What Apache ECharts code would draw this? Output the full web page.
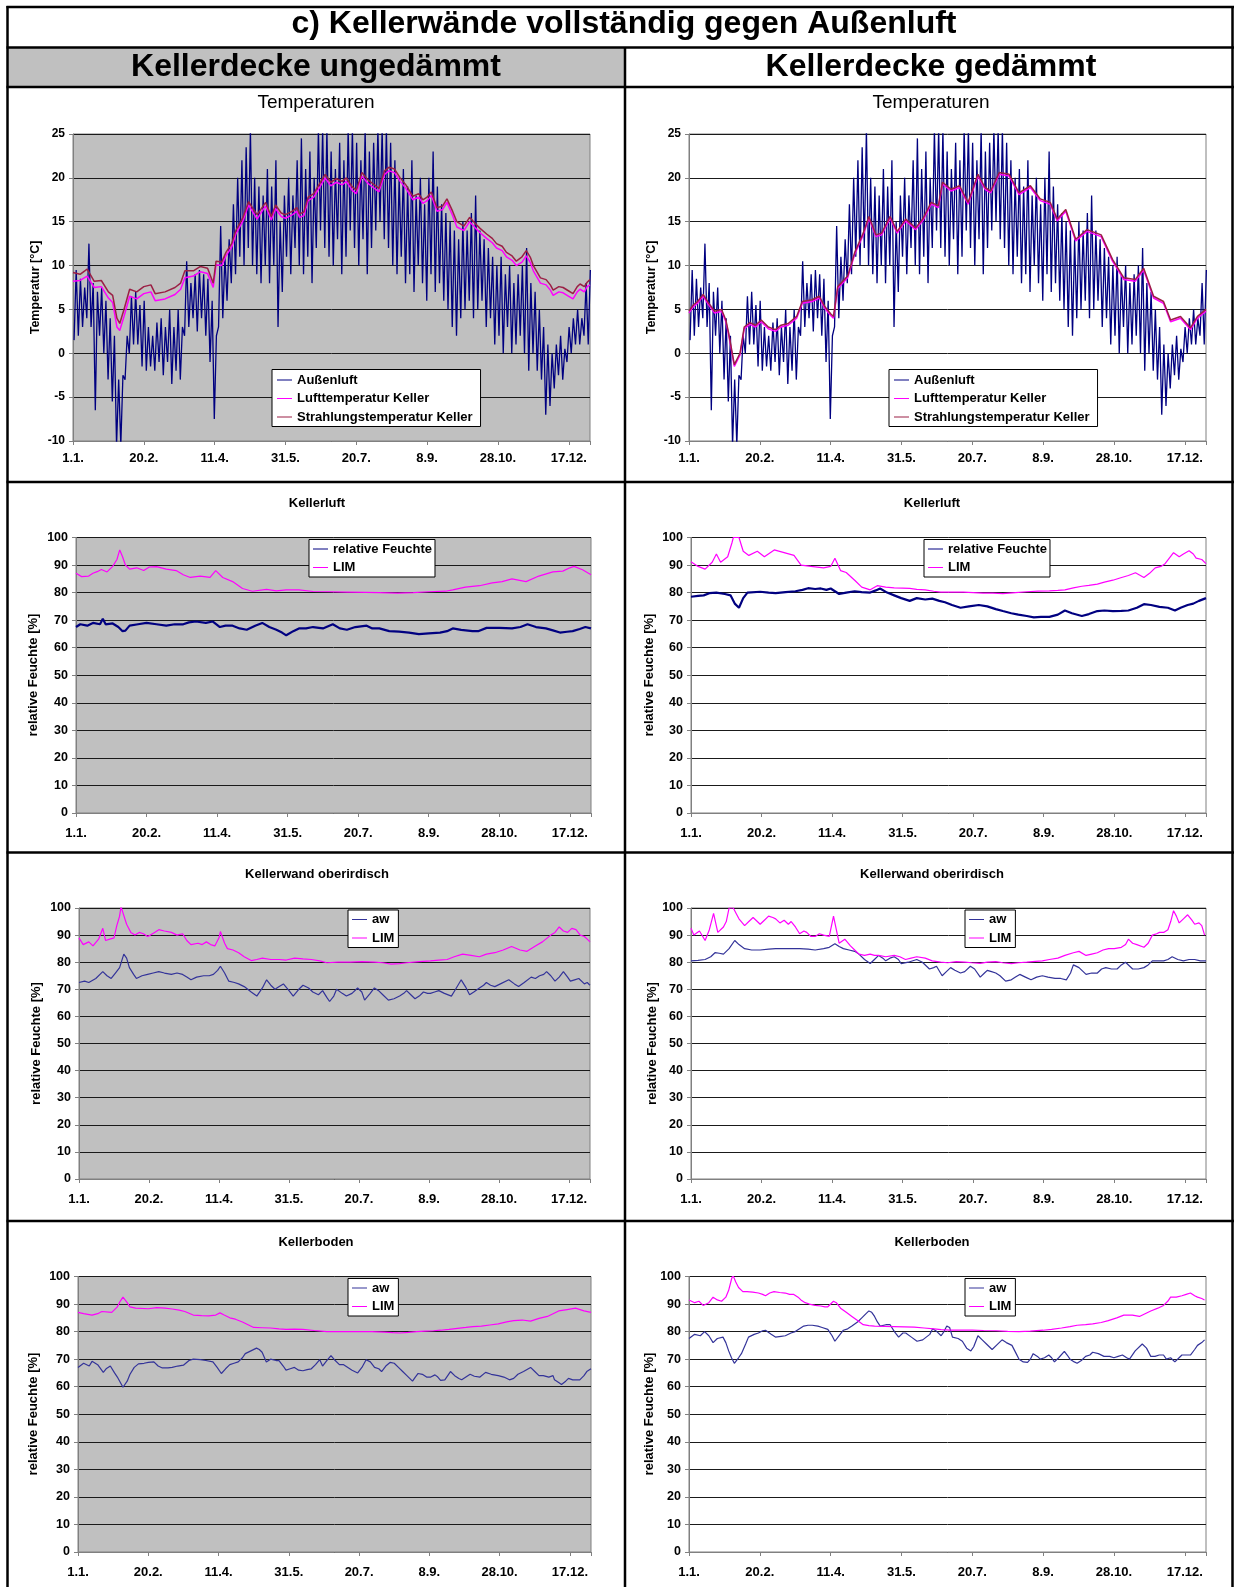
<!DOCTYPE html>
<html><head><meta charset="utf-8">
<script src="https://cdn.jsdelivr.net/npm/echarts/dist/echarts.min.js"></script>
<style>html,body{margin:0;padding:0;background:#fff}#c{width:1234px;height:1587px}</style>
</head><body><div id="c"></div>
<script>
// ---------- tick labels ----------
const dayTickLabels = ['1.1.','20.2.','11.4.','31.5.','20.7.','8.9.','28.10.','17.12.'];

// ---------- Außenluft (same weather in both variants): 3-day envelope, low / high ----------
const aussenBinDays = 3;
const aussenLo = [1.5,2,3,4,3,-6.5,2,0,-3,-5.5,-10.5,-10.5,-3,0,1,1,-1.5,-2,-1.5,-2,-1,-2.5,-1,-3.5,-2,-3,2,3,4,2.5,4,2,-1,-7.5,3,4,6,8,9,11,10,12,10,9,8,10,8,10,3,7,11,9,12,10,9,11,8,12,14,12,11,10,13,9,11,14,12,10,13,9,12,14,15,13,12,10,9,11,8,9,7,10,8,6,9,7,8,6,5,3,2,4,5,6,4,5,6,3,4,1,2,0,3,0,1,2,0,-2,0,-2,-3,-7,-6,-4,-2.5,-3,-1,0,1,1,2,1];
const aussenHi = [9.5,8.5,7.5,12.5,8,7,7.5,6,4,2,-3,-2.5,2,6.5,7,5.5,6,3,2,3.5,4,3,5,3,5,3,10.5,8,9,9.5,9,8.5,6,2,14.5,11,13,17,20,22,23.5,25.5,20,19,18,21,19,22,15,18,20,18,22,24.5,21,23,20,25.5,25.5,25.5,23,21,24,22,25.5,25.5,24,22,25.5,23,24,25.5,25.5,25.5,24,22,20,21,19,22,18,20,17,20,23,19,17,16,15,14,13,15,14,16,18,14,13,12,11,10,11,9,10,8,9,10,12,8,7,5,3,1,0,1,2,0.5,3,4,5,4,8,9.5];

// ---------- Kellertemperaturen [day, °C] ----------
const strahlU = [[0,9.2],[5,9],[10,9.6],[15,8.2],[20,8.3],[25,7],[28,6.6],[31,4],[33,3.4],[36,5],[40,7.3],[45,7],[50,7.6],[55,7.8],[58,6.8],[65,7],[72,7.5],[76,8],[79,9.4],[85,9.4],[90,9.9],[95,9.7],[99,8],[101,10.5],[105,10.4],[108,11.5],[112,12.5],[115,14],[120,15.5],[124,17.3],[127,16.5],[130,15.8],[133,16.5],[136,17.2],[140,15.6],[143,16.9],[147,16],[150,15.8],[155,16.2],[158,16.6],[160,15.9],[163,16.1],[166,17.8],[170,18.2],[174,19.3],[178,20.4],[182,19.5],[186,19.9],[190,19.6],[193,20],[197,19],[200,18.6],[204,20.6],[208,19.8],[212,19.3],[216,18.8],[220,20.8],[223,21.2],[227,21],[231,20],[235,19.2],[240,17.9],[244,18.2],[247,17.5],[250,17.8],[253,18.4],[257,16.6],[261,16.8],[264,17.6],[268,16.2],[271,15],[276,14.5],[280,15.5],[284,14.8],[287,14.3],[292,13.6],[296,13.1],[299,12.5],[303,12.2],[306,11.5],[310,11.1],[313,10.5],[317,11],[320,11.7],[323,10.9],[325,10],[330,8.6],[334,8.4],[337,7.8],[339,7.2],[343,7.6],[346,7.5],[350,7.1],[353,6.8],[356,7.6],[358,7.9],[361,7.6],[363,8.1],[365,8.4]];
const luftU = [[0,8.2],[5,8.3],[10,8.8],[15,7.5],[20,7.6],[25,6.3],[28,5.8],[31,3],[33,2.6],[36,4.2],[40,6.5],[45,6.2],[50,6.8],[55,7],[58,6],[65,6.2],[72,6.7],[76,7.3],[79,8.6],[85,8.8],[90,9.3],[95,9.1],[99,7.5],[101,10.1],[105,10],[108,11.1],[112,12.1],[115,13.6],[120,15.1],[124,16.9],[127,16.1],[130,15.3],[133,16.1],[136,16.8],[140,15.2],[143,16.5],[147,15.6],[150,15.4],[155,15.8],[158,16.2],[160,15.5],[163,15.7],[166,17.4],[170,17.8],[174,18.9],[178,20],[182,19.1],[186,19.5],[190,19.2],[193,19.6],[197,18.6],[200,18.2],[204,20.2],[208,19.4],[212,18.9],[216,18.4],[220,20.4],[223,20.8],[227,20.6],[231,19.6],[235,18.8],[240,17.5],[244,17.8],[247,17.1],[250,17.4],[253,18],[257,16.2],[261,16.4],[264,17.2],[268,15.7],[271,14.4],[276,14],[280,15],[284,14.3],[287,13.8],[292,13.1],[296,12.6],[299,12],[303,11.7],[306,11],[310,10.6],[313,10],[317,10.4],[320,11.1],[323,10.3],[325,9.4],[330,8],[334,7.8],[337,7.2],[339,6.6],[343,7],[346,6.9],[350,6.5],[353,6.2],[356,7],[358,7.3],[361,7],[363,7.6],[365,7.8]];
const strahlG = [[0,4.8],[3,5.5],[6,5.9],[10,6.7],[14,5.7],[18,4.8],[23,5],[26,3.8],[28,2.3],[30,0.5],[32,-1.3],[36,0],[39,3],[43,3.5],[47,3.2],[51,3.8],[56,3],[61,2.7],[65,3.2],[70,3.4],[76,4.2],[80,5.9],[87,6.1],[92,6.5],[96,5.3],[100,4.5],[102,4.2],[105,7.6],[112,8.8],[117,11.5],[123,13.7],[127,15.6],[132,13.5],[136,13.7],[142,15.6],[147,13.9],[153,15.3],[160,14.3],[165,15.3],[171,17.2],[176,16.8],[179,19.5],[185,18.7],[191,19.1],[197,17.2],[204,20.4],[209,18.9],[213,18.5],[219,20.6],[226,20.4],[233,18.3],[241,19.1],[248,17.6],[255,17.2],[260,15.3],[266,16.4],[273,13],[281,14.1],[291,13.5],[299,10.7],[307,8.6],[315,8.4],[321,9.7],[328,6.5],[335,5.9],[340,3.8],[347,4.2],[354,2.9],[359,4.2],[365,5]];
const luftG = [[0,4.6],[3,5.3],[6,5.7],[10,6.5],[14,5.5],[18,4.6],[23,4.8],[26,3.6],[28,2.1],[30,0.3],[32,-1.5],[36,-0.2],[39,2.8],[43,3.3],[47,3],[51,3.6],[56,2.8],[61,2.5],[65,3],[70,3.2],[76,4],[80,5.7],[87,5.9],[92,6.3],[96,5.1],[100,4.3],[102,4],[105,7.4],[112,8.6],[117,11.3],[123,13.5],[127,15.4],[132,13.3],[136,13.5],[142,15.4],[147,13.7],[153,15.1],[160,14.1],[165,15.1],[171,17],[176,16.6],[179,19.3],[185,18.5],[191,18.9],[197,17],[204,20.2],[209,18.7],[213,18.3],[219,20.4],[226,20.2],[233,18.1],[241,18.9],[248,17.4],[255,17],[260,15.1],[266,16.2],[273,12.8],[281,13.9],[291,13.3],[299,10.5],[307,8.4],[315,8.2],[321,9.5],[328,6.3],[335,5.7],[340,3.6],[347,4],[354,2.7],[359,4],[365,4.8]];

// ---------- Kellerluft [day, %] ----------
const klRfU = [[0,67.5],[3,68.5],[8,68],[12,69],[17,68.5],[19,70.5],[21,68.5],[26,68.8],[30,67.5],[33,66],[35,66.2],[38,68],[44,68.5],[50,69],[57,68.5],[64,68],[70,68.5],[76,68.5],[80,69.2],[85,69.5],[92,69],[97,69.5],[102,67.5],[106,68],[111,68],[116,67],[121,66.5],[127,68],[132,69],[137,67.5],[142,66.5],[146,65.5],[149,64.5],[154,66],[158,67],[163,67],[168,67.5],[175,67],[182,68.5],[187,67],[192,66.5],[198,67.5],[206,68],[210,67],[215,67],[222,66],[229,65.8],[236,65.5],[243,64.9],[250,65.2],[258,65.5],[263,66],[267,67],[273,66.5],[281,66],[285,66],[291,67.2],[300,67.2],[309,67],[315,67.5],[320,68.5],[326,67.5],[333,67],[338,66.3],[343,65.5],[348,65.8],[352,66],[357,66.8],[361,67.5],[365,67]];
const klLimU = [[0,87],[4,85.8],[9,86],[12,87],[15,87.6],[18,88.4],[22,87.5],[26,89.5],[29,92],[31,95.5],[33,93],[35,90],[38,88.5],[43,89],[48,88],[52,89.3],[57,89.4],[64,88.5],[71,88],[76,86.5],[81,85.5],[88,86],[95,85.5],[99,88],[104,85.5],[111,84],[118,81.5],[125,80.5],[135,81.2],[142,80.6],[149,81],[158,81],[168,80.4],[180,80.3],[192,80.2],[205,80.1],[215,80],[228,79.8],[239,80],[250,80.3],[262,80.5],[267,81],[276,82],[286,82.5],[295,83.5],[302,84],[309,85],[319,84],[328,86],[338,87.5],[345,87.8],[350,89],[353,89.5],[359,88.3],[365,86.5]];
const klRfG = [[0,78.5],[5,78.8],[9,79],[13,79.8],[18,80],[24,79.5],[28,79],[31,76],[34,74.5],[37,78],[40,80],[49,80.3],[55,80],[60,79.8],[67,80.2],[74,80.5],[79,81],[83,81.6],[88,81.3],[92,81.5],[96,81],[99,81.5],[102,80.5],[105,79.5],[110,80],[116,80.5],[121,80.2],[127,80],[131,80.8],[134,81.5],[139,80],[144,79],[149,78],[155,77],[160,78],[166,77.5],[171,77.8],[176,77],[180,76.5],[185,75.5],[191,74.5],[197,75],[204,75.5],[210,75],[216,74],[221,73.3],[227,72.5],[232,72],[238,71.5],[243,71],[248,71.2],[254,71.2],[260,72],[265,73.5],[270,72.5],[277,71.5],[282,72.2],[288,73.3],[293,73.5],[299,73.3],[305,73.4],[310,73.5],[316,74.5],[321,75.8],[326,75.5],[332,74.8],[338,74.5],[343,73.5],[347,74.5],[352,75.5],[356,76],[360,77],[365,78]];
const klLimG = [[0,91.2],[5,89.5],[10,88.5],[15,91],[18,94],[21,91],[26,93],[29,98],[30,100],[34,100],[37,95],[41,93.5],[47,95],[52,93],[59,95.5],[66,94.5],[73,93.5],[78,90],[85,89.5],[94,89],[99,89.5],[102,92.5],[106,88],[110,87.3],[116,84.5],[121,82],[127,81],[132,82.5],[138,82],[144,81.7],[150,81.6],[155,81.5],[160,81.2],[166,81],[172,80.5],[177,80.2],[185,80.2],[193,80.2],[200,80],[207,79.8],[214,79.8],[221,79.6],[230,80],[238,80.3],[246,80.5],[254,80.6],[260,80.8],[265,81],[271,81.7],[277,82.3],[282,82.6],[288,83.1],[293,83.8],[299,84.5],[304,85.3],[310,86.2],[315,87.2],[321,85.5],[325,87],[329,89],[333,89.5],[336,90.5],[339,92.5],[342,94.5],[346,93],[349,94],[353,95.2],[356,94],[358,92.5],[362,92],[365,90.5]];

// ---------- Kellerwand oberirdisch [day, %] ----------
const owLimU = [[0,89],[3,86.5],[7,87.5],[10,86],[14,88.5],[17,92.5],[19,88],[22,88.5],[25,89],[27,93.5],[29,97],[30,100.5],[31,100.5],[34,94],[37,91],[40,90],[43,91],[46,90.5],[49,89.5],[51,90],[54,91],[57,92],[61,91.5],[66,91],[70,90],[74,90.5],[77,88],[80,86.5],[85,87],[88,86.5],[91,87.5],[94,86.5],[97,86],[100,89],[101,91.3],[104,87],[106,85],[110,84.5],[114,83.5],[118,82],[123,80.6],[127,81],[131,81.5],[137,81],[143,81],[148,80.8],[154,81.5],[160,81.2],[166,81],[172,80.5],[177,79.8],[185,80],[194,80],[202,80.2],[211,80],[217,79.8],[223,79.3],[229,79.5],[234,79.8],[243,80.2],[251,80.5],[257,80.8],[263,81],[268,82],[274,83],[280,82.5],[286,82],[291,83],[297,83.5],[303,84.5],[309,85.8],[315,84.5],[320,84],[326,86],[331,87.5],[337,90],[340,91],[343,93],[346,91.5],[349,91],[352,92.5],[355,92],[358,90],[361,89.5],[363,88.5],[365,87.5]];
const owAwU = [[0,72.5],[4,73],[7,72.5],[12,74],[17,76.5],[20,75],[23,74],[26,76],[29,78],[32,83],[34,81.5],[36,78],[39,75.5],[41,74],[45,75],[49,75.5],[53,76],[57,76.5],[61,76],[66,75.5],[70,76],[74,75.5],[77,74.5],[80,73.5],[84,74.5],[89,75],[93,75],[96,75.5],[99,77],[101,78.5],[104,76],[107,73],[111,72.5],[114,72],[118,71],[123,69],[127,67.5],[131,70.5],[134,73.5],[137,71.5],[140,70],[143,71],[146,72],[150,69.5],[153,67.5],[157,70],[160,71.5],[164,70.5],[167,69],[171,68],[174,69.5],[177,67],[179,65.5],[182,67.5],[184,70],[188,68.5],[191,67.5],[195,68.5],[199,70.5],[202,69],[204,66],[208,68.5],[211,70.5],[214,69.5],[217,68],[221,66],[225,66.5],[229,67.5],[232,68.5],[234,69.5],[237,68],[240,66.5],[243,67.5],[246,69],[249,68.5],[251,68.5],[254,69],[257,69.5],[261,68.5],[266,67.5],[269,70],[273,73.5],[276,71],[279,68],[282,69],[286,70.5],[289,71.5],[291,72.5],[294,71.5],[297,71],[301,72],[307,73.5],[311,72],[314,71],[318,72.5],[323,74.5],[326,74],[329,75],[332,75.5],[334,76.5],[337,75],[340,73],[343,74.5],[346,76.5],[349,74.5],[351,73],[354,73.5],[357,74],[361,72],[363,72.5],[365,71.5]];
const owLimG = [[0,92.5],[2,90],[6,91.5],[10,88],[13,92],[16,98],[19,91],[23,93],[25,95],[27,100],[30,100],[32,98],[34,96],[38,93.5],[41,95],[44,96.5],[47,95],[49,94],[52,95.5],[55,97],[58,96.5],[60,96],[63,94.5],[66,95.5],[69,94],[71,95],[74,93],[77,90.5],[80,91.5],[82,91],[85,89.5],[88,89.5],[91,90.5],[94,90],[98,89.5],[101,97],[103,92],[105,87],[109,88.5],[113,86],[116,84.5],[119,83],[123,82.5],[127,83],[130,82.5],[133,82.5],[138,82],[144,82.5],[148,82],[152,81],[156,81.5],[160,82],[166,81.5],[171,80.5],[177,80],[182,79.8],[188,80.2],[194,80],[199,79.8],[205,79.6],[210,80],[216,80.2],[221,79.8],[227,79.5],[232,79.8],[238,80],[244,80.3],[249,80.5],[254,81],[260,81.5],[265,82.5],[271,83.5],[275,84],[280,82.5],[284,83],[288,83.5],[292,84.5],[296,85],[300,85],[305,85.5],[308,86.5],[310,88.5],[313,87],[316,86.5],[321,85.5],[324,87],[327,90],[330,90.5],[332,91],[335,91],[338,92],[340,95],[342,99],[344,97],[346,94.5],[349,96],[352,97.5],[355,95.5],[357,94],[360,94.5],[362,93.5],[364,90]];
const owAwG = [[0,80.5],[5,80.7],[10,81],[14,82],[17,83.5],[20,83.3],[23,83],[27,85],[31,88],[34,86.5],[38,85],[43,84.5],[49,84.5],[55,84.8],[60,85],[68,85],[77,85],[83,84.8],[88,84.5],[94,85],[98,85.5],[102,86.8],[105,85.8],[108,85],[112,84.5],[116,84],[119,83],[123,81],[127,79.5],[130,81],[133,82.5],[136,81.5],[138,80.5],[141,81.5],[144,82],[147,81],[149,79.5],[154,80],[160,81],[164,80],[169,77.5],[172,78],[174,78.5],[178,75],[181,76.5],[184,78],[187,77],[191,76],[194,76.5],[198,78.5],[201,77.5],[205,74.5],[208,76],[210,77],[213,76.5],[216,76],[219,75],[223,73],[227,73.5],[230,74.5],[233,75.5],[237,74.5],[241,73.5],[245,74.5],[249,75],[253,74.5],[258,74],[262,74],[266,73.5],[269,76],[271,79],[275,78],[280,75.5],[284,76],[288,76],[291,77.5],[294,78],[298,77.5],[302,77.5],[305,79],[308,80],[313,77.5],[317,77.5],[321,78],[324,79],[327,80.5],[331,80.5],[335,80.5],[338,81],[341,82],[345,81],[349,80.5],[353,81],[357,81],[361,80.5],[365,80.5]];

// ---------- Kellerboden [day, %] ----------
const kbLimU = [[0,87],[4,86.5],[10,86],[14,86.5],[17,87.3],[24,87],[28,89],[30,91],[32,92.5],[35,90.5],[37,89],[41,88.5],[50,88.3],[56,88.7],[62,88.5],[67,88.2],[72,87.8],[76,87.3],[82,86],[88,85.8],[93,85.7],[98,86],[101,86.8],[104,86],[108,85],[112,84.5],[117,83.5],[121,82.5],[125,81.5],[131,81.4],[137,81.3],[143,81],[148,80.8],[154,80.9],[160,80.8],[168,80.4],[177,80],[188,80],[200,80],[209,80],[218,79.8],[224,79.6],[229,79.5],[235,79.7],[241,80],[247,80.2],[253,80.3],[258,80.5],[264,80.8],[270,81.2],[276,81.5],[281,81.8],[287,82],[293,82.4],[299,82.8],[305,83.5],[310,84],[316,84.2],[322,83.8],[328,84.8],[334,85.5],[338,86.5],[342,87.5],[348,88],[354,88.5],[360,87.5],[365,87]];
const kbAwU = [[0,67],[4,68.5],[8,67.5],[10,69.2],[14,68],[18,65.2],[20,66.5],[23,67.5],[26,65],[28,63.5],[32,59.8],[35,62],[37,64.5],[40,67],[43,68.3],[47,68.5],[50,68.8],[54,69],[57,67.5],[60,66.8],[64,66.8],[67,67],[71,67.5],[75,67.8],[79,69.5],[82,70],[87,69.8],[91,69.5],[96,69],[99,67],[102,64.8],[105,66.5],[108,68],[111,68.5],[114,69],[117,70.5],[119,72],[123,73],[127,74],[129,73.5],[131,72.5],[134,69],[137,70],[141,69.5],[143,69.5],[146,67.5],[148,66],[151,66.5],[154,67],[157,66],[160,65.8],[163,66.2],[166,66.5],[169,68],[172,69.8],[174,67.5],[177,69.5],[180,71.3],[183,69.5],[186,68],[189,68],[192,67],[195,66],[199,65],[202,67],[205,69.8],[208,69],[211,67],[214,66.5],[216,65.5],[219,67.5],[222,68.8],[225,68.5],[228,67],[231,65.5],[234,64],[236,63],[238,62],[240,63.5],[242,64.8],[245,64.5],[248,63.5],[251,63.5],[254,64.3],[256,63.5],[258,62.3],[261,62.5],[265,65.5],[268,64],[271,63],[273,62.5],[276,63.5],[279,64.5],[282,63.8],[286,63.5],[290,65.2],[294,64.5],[299,64],[303,63.5],[307,62.5],[310,63],[313,64.5],[317,65.5],[322,67],[325,65.5],[328,64],[331,64],[335,63.5],[338,64],[339,62.5],[342,61.5],[344,60.8],[347,62],[349,63],[352,62.5],[357,62.5],[360,64],[362,65.5],[365,66.5]];
const kbLimG = [[0,91.5],[4,90.5],[7,91],[10,89.5],[14,90.5],[17,92.5],[20,91.5],[23,91],[26,92.5],[28,95],[30,99],[31,100.5],[33,98],[35,96],[38,94.5],[41,94.5],[45,94.3],[49,94],[52,93.5],[54,93],[57,94],[60,94.5],[64,94.2],[68,94],[71,93.5],[74,93.5],[77,92.5],[79,91.5],[82,90.5],[85,90],[89,89.5],[93,89.3],[96,89],[98,89],[100,90],[102,91],[104,90.5],[107,88.5],[111,87],[115,85.5],[119,84],[123,82.5],[127,82.2],[131,82],[138,81.9],[145,81.8],[152,81.7],[159,81.6],[166,81.3],[173,81],[178,80.7],[184,80.5],[192,80.5],[200,80.5],[208,80.4],[217,80.3],[225,80.1],[233,80],[241,80.2],[250,80.5],[256,80.8],[263,81.3],[269,81.8],[274,82.3],[280,82.5],[285,82.8],[291,83.3],[296,84],[302,85],[307,86],[313,86],[318,85.5],[322,86.5],[326,87.5],[331,88.5],[335,89.5],[338,91],[340,92.5],[344,92.5],[348,93],[351,93.5],[354,94],[357,93],[359,92.5],[362,92],[364,91.5]];
const kbAwG = [[0,77.5],[4,79],[8,78.5],[11,80],[14,78.5],[17,76],[20,77.5],[24,78],[26,76],[28,73],[30,70.5],[32,68.5],[35,70.5],[37,72],[40,75.5],[42,78],[46,79],[49,79.5],[52,80.3],[54,80.5],[58,79],[61,78],[65,78.3],[68,78.5],[72,79.5],[75,80],[78,81],[81,82],[84,82.3],[87,82.3],[91,82],[94,81.5],[98,80.8],[101,78.5],[103,76.5],[106,78.5],[109,80.5],[112,81],[115,82],[119,83.5],[122,85],[125,86.5],[127,87.5],[129,87],[131,85.5],[133,83.5],[135,82],[139,82.5],[142,82.5],[145,80],[148,78],[151,79.5],[153,79.5],[157,78],[161,76.5],[165,77],[170,79],[172,81],[175,80],[178,78.5],[180,80],[182,82],[184,81.5],[186,78],[190,77.5],[193,76.5],[196,74],[199,73],[201,74.5],[204,78.5],[207,77],[210,75.5],[212,74.5],[214,73.5],[217,75],[221,77],[224,76],[228,75],[231,72],[233,70],[236,69],[239,68.8],[241,70],[243,72],[246,71],[248,70],[251,70.5],[254,71.5],[256,70.5],[258,69],[261,70.5],[265,72.8],[267,71.5],[269,70],[272,69],[274,68.5],[277,69.5],[280,71],[283,71.5],[285,72.5],[289,72],[293,71],[297,71],[300,70.5],[303,71],[306,71.5],[309,70.5],[311,70],[315,73],[320,75.5],[323,74],[326,71],[329,71],[332,71.5],[335,71.5],[337,70],[340,70.5],[343,69],[346,70.5],[348,71.5],[351,71.5],[354,71.5],[357,73.5],[359,75],[362,76],[364,77]];

// ---------- build ----------
function envelope(lo, hi) {
  const pts = [];
  for (let i = 0; i < lo.length; i++) {
    const d0 = i * aussenBinDays;
    pts.push([d0 + 0.75, lo[i]]);
    pts.push([d0 + 2.25, hi[i]]);
  }
  return pts;
}
const aussen = envelope(aussenLo, aussenHi);

const FONT = "'Liberation Sans', Arial, Helvetica, sans-serif";
const C_NAVY = '#000080', C_MAG = '#FF00FF', C_STR = '#9B1F45', C_AW = '#333399';

const panels = [
  {rect:{left:73,top:134,width:517,height:307}, bg:'#C0C0C0', y:[-10,25,5], xm:11,
   s:[['Außenluft',aussen,C_NAVY,1.3],['Lufttemperatur Keller',luftU,C_MAG,1.5],['Strahlungstemperatur Keller',strahlU,C_STR,1.5]]},
  {rect:{left:689,top:134,width:517,height:307}, bg:'#FFFFFF', y:[-10,25,5], xm:11,
   s:[['Außenluft',aussen,C_NAVY,1.3],['Lufttemperatur Keller',luftG,C_MAG,1.5],['Strahlungstemperatur Keller',strahlG,C_STR,1.5]]},
  {rect:{left:76,top:537.5,width:515,height:275.5}, bg:'#C0C0C0', y:[0,100,10], xm:13.5,
   s:[['relative Feuchte',klRfU,C_NAVY,2.2],['LIM',klLimU,C_MAG,1.2]]},
  {rect:{left:691,top:537.5,width:515,height:275.5}, bg:'#FFFFFF', y:[0,100,10], xm:13.5,
   s:[['relative Feuchte',klRfG,C_NAVY,2.2],['LIM',klLimG,C_MAG,1.2]]},
  {rect:{left:79,top:908,width:511,height:271}, bg:'#C0C0C0', y:[0,100,10], xm:13.5,
   s:[['aw',owAwU,C_AW,1.2],['LIM',owLimU,C_MAG,1.2]]},
  {rect:{left:691,top:908,width:515,height:271}, bg:'#FFFFFF', y:[0,100,10], xm:13.5,
   s:[['aw',owAwG,C_AW,1.2],['LIM',owLimG,C_MAG,1.2]]},
  {rect:{left:78,top:1276.5,width:513,height:275.5}, bg:'#C0C0C0', y:[0,100,10], xm:13.5,
   s:[['aw',kbAwU,C_AW,1.2],['LIM',kbLimU,C_MAG,1.2]]},
  {rect:{left:689,top:1276.5,width:517,height:275.5}, bg:'#FFFFFF', y:[0,100,10], xm:13.5,
   s:[['aw',kbAwG,C_AW,1.2],['LIM',kbLimG,C_MAG,1.2]]}
];

const grid = [], xAxis = [], yAxis = [], series = [];
panels.forEach((p, i) => {
  grid.push(Object.assign({show:true, backgroundColor:p.bg, borderColor:'#808080', borderWidth:1, containLabel:false}, p.rect));
  xAxis.push({type:'value', gridIndex:i, min:0, max:365, interval:50,
    axisLine:{show:true, onZero:false, lineStyle:{color:'#808080', width:1}},
    axisTick:{show:true, length:4, lineStyle:{color:'#808080'}},
    splitLine:{show:false},
    axisLabel:{fontFamily:FONT, fontWeight:'bold', fontSize:13, color:'#000', margin:p.xm,
      formatter: v => (v % 50 === 0 && v / 50 < dayTickLabels.length) ? dayTickLabels[v / 50] : ''}});
  yAxis.push({type:'value', gridIndex:i, min:p.y[0], max:p.y[1], interval:p.y[2],
    axisLine:{show:true, onZero:false, lineStyle:{color:'#808080', width:1}},
    axisTick:{show:true, length:4, lineStyle:{color:'#808080'}},
    splitLine:{show:true, lineStyle:{color:'#1a1a1a', width:1}},
    axisLabel:{fontFamily:FONT, fontWeight:'bold', fontSize: i < 2 ? 12 : 12.5, color:'#000', margin:8}});
  p.s.forEach((s, k) => {
    series.push({type:'line', name:s[0], xAxisIndex:i, yAxisIndex:i, data:s[1],
      symbol:'none', showSymbol:false, clip:true, animation:false, silent:true, z:2 + k,
      lineStyle:{color:s[2], width:s[3]}, itemStyle:{color:s[2]}});
  });
});

const legBase = {orient:'vertical', itemGap:3.5, itemWidth:15, itemHeight:1, icon:'rect',
  backgroundColor:'#fff', borderColor:'#000', borderWidth:1, borderRadius:0, selectedMode:false,
  textStyle:{fontFamily:FONT, fontWeight:'bold', fontSize:13, color:'#000', lineHeight:15}};
const tempNames = ['Außenluft','Lufttemperatur Keller','Strahlungstemperatur Keller'];
const legend = [
  Object.assign({}, legBase, {left:272, top:369.5, data:tempNames, padding:[3,8,2,5]}),
  Object.assign({}, legBase, {left:889, top:369.5, data:tempNames, padding:[3,8,2,5]}),
  Object.assign({}, legBase, {left:309, top:539.5, data:['relative Feuchte','LIM'], padding:[2,3,2,4]}),
  Object.assign({}, legBase, {left:924, top:539.5, data:['relative Feuchte','LIM'], padding:[2,3,2,4]}),
  Object.assign({}, legBase, {left:348, top:910, data:['aw','LIM'], padding:[2,4,2,4]}),
  Object.assign({}, legBase, {left:965, top:910, data:['aw','LIM'], padding:[2,4,2,4]}),
  Object.assign({}, legBase, {left:348, top:1278.5, data:['aw','LIM'], padding:[2,4,2,4]}),
  Object.assign({}, legBase, {left:965, top:1278.5, data:['aw','LIM'], padding:[2,4,2,4]})
];

// ---------- table frame and texts ----------
const g = [];
function line(x1, y1, x2, y2, w) {
  g.push({type:'line', silent:true, z:100, shape:{x1, y1, x2, y2}, style:{stroke:'#000', lineWidth:w || 2.5}});
}
function text(t, x, y, font, rot) {
  g.push({type:'text', silent:true, z:101, x, y, rotation: rot || 0,
    style:{text:t, font, fill:'#000', align:'center', verticalAlign:'middle'}});
}
g.push({type:'rect', silent:true, z:0, shape:{x:7.5, y:47.5, width:617, height:39.5}, style:{fill:'#C0C0C0'}});
line(6.5, 7, 1234, 7);
line(6.5, 47.5, 1234, 47.5);
line(6.5, 87, 1234, 87);
line(6.5, 482, 1234, 482);
line(6.5, 852.5, 1234, 852.5);
line(6.5, 1221, 1234, 1221);
line(7.5, 6, 7.5, 1587);
line(1232.5, 6, 1232.5, 1587);
line(625, 47.5, 625, 1587);

text('c) Kellerwände vollständig gegen Außenluft', 624, 24.5, 'bold 32px ' + FONT);
text('Kellerdecke ungedämmt', 316, 67.5, 'bold 32px ' + FONT);
text('Kellerdecke gedämmt', 931, 67.5, 'bold 32px ' + FONT);

text('Temperaturen', 316, 103, '19px ' + FONT);
text('Temperaturen', 931, 103, '19px ' + FONT);
text('Kellerluft', 317, 503, 'bold 13px ' + FONT);
text('Kellerluft', 932, 503, 'bold 13px ' + FONT);
text('Kellerwand oberirdisch', 317, 874, 'bold 13px ' + FONT);
text('Kellerwand oberirdisch', 932, 874, 'bold 13px ' + FONT);
text('Kellerboden', 316, 1242, 'bold 13px ' + FONT);
text('Kellerboden', 932, 1242, 'bold 13px ' + FONT);

const R = Math.PI / 2;
text('Temperatur [°C]', 36, 287.5, 'bold 12.5px ' + FONT, R);
text('Temperatur [°C]', 652, 287.5, 'bold 12.5px ' + FONT, R);
text('relative Feuchte [%]', 33, 675, 'bold 13px ' + FONT, R);
text('relative Feuchte [%]', 649, 675, 'bold 13px ' + FONT, R);
text('relative Feuchte [%]', 36, 1043.5, 'bold 13px ' + FONT, R);
text('relative Feuchte [%]', 652, 1043.5, 'bold 13px ' + FONT, R);
text('relative Feuchte [%]', 33, 1414, 'bold 13px ' + FONT, R);
text('relative Feuchte [%]', 649, 1414, 'bold 13px ' + FONT, R);

const chart = echarts.init(document.getElementById('c'), null, {renderer:'canvas', width:1234, height:1587});
chart.setOption({
  animation:false,
  backgroundColor:'#fff',
  textStyle:{fontFamily:FONT},
  grid, xAxis, yAxis, series, legend,
  graphic:{elements:g}
});
</script>
</body></html>
